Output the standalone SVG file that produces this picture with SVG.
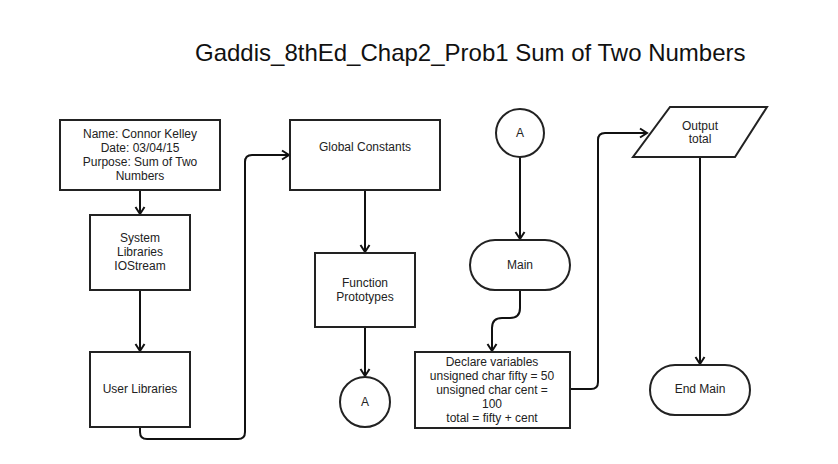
<svg xmlns="http://www.w3.org/2000/svg" width="838" height="464" viewBox="0 0 838 464">
<style>
.box{fill:#fff;stroke:#222;stroke-width:2}
.t{font-family:"Liberation Sans",Arial,sans-serif;font-size:12px;fill:#222;text-anchor:middle}
.title{font-family:"Liberation Sans",Arial,sans-serif;font-size:24px;fill:#111}
.c{fill:none;stroke:#111;stroke-width:2;marker-end:url(#arr)}
</style>
<defs>
<marker id="arr" markerWidth="12" markerHeight="12" viewBox="0 0 12 12" refX="10" refY="6" orient="auto" markerUnits="userSpaceOnUse">
<path d="M3,1.5 L10,6 L3,10.5" fill="none" stroke="#111" stroke-width="2"/>
</marker>
</defs>
<rect width="838" height="464" fill="#fff"/>
<text class="title" x="195" y="61">Gaddis_8thEd_Chap2_Prob1 Sum of Two Numbers</text>

<g id="connectors">
<path class="c" d="M140,190 L140,214"/>
<path class="c" d="M140,290 L140,351"/>
<path class="c" d="M140,427 L140,432 Q140,439 147,439 L238,439 Q245,439 245,432 L245,162 Q245,155 252,155 L289,155"/>
<path class="c" d="M365,190 L365,252"/>
<path class="c" d="M365,327 L365,376"/>
<path class="c" d="M520,157 L520,239"/>
<path class="c" d="M520,290 L520,308 Q520,318 510,318 L502,318 Q492,318 492,328 L492,351"/>
<path class="c" d="M570,389 L591,389 Q598,389 598,382 L598,140 Q598,133 605,133 L647,133"/>
<path class="c" d="M700,157 L700,364"/>
</g>

<g id="n-header">
<rect class="box" x="60" y="120" width="160" height="70"/>
<text class="t" x="140" y="138">Name: Connor Kelley</text>
<text class="t" x="140" y="152">Date: 03/04/15</text>
<text class="t" x="140" y="166">Purpose: Sum of Two</text>
<text class="t" x="140" y="180">Numbers</text>
</g>
<g id="n-syslib">
<rect class="box" x="90" y="215" width="100" height="75"/>
<text class="t" x="140" y="242">System</text>
<text class="t" x="140" y="256">Libraries</text>
<text class="t" x="140" y="270">IOStream</text>
</g>
<g id="n-userlib">
<rect class="box" x="90" y="352" width="100" height="75"/>
<text class="t" x="140" y="393">User Libraries</text>
</g>
<g id="n-global">
<rect class="box" x="290" y="120" width="150" height="70"/>
<text class="t" x="365" y="151">Global Constants</text>
</g>
<g id="n-proto">
<rect class="box" x="315" y="253" width="100" height="74"/>
<text class="t" x="365" y="287">Function</text>
<text class="t" x="365" y="301">Prototypes</text>
</g>
<g id="n-a1">
<circle class="box" cx="365" cy="402" r="25"/>
<text class="t" x="365" y="406">A</text>
</g>
<g id="n-a2">
<circle class="box" cx="520" cy="133" r="24"/>
<text class="t" x="520" y="137">A</text>
</g>
<g id="n-main">
<rect class="box" x="470" y="240" width="100" height="50" rx="25" ry="25"/>
<text class="t" x="520" y="269">Main</text>
</g>
<g id="n-declare">
<rect class="box" x="415" y="352" width="155" height="76"/>
<text class="t" x="492" y="366">Declare variables</text>
<text class="t" x="492" y="380">unsigned char fifty = 50</text>
<text class="t" x="492" y="394">unsigned char cent =</text>
<text class="t" x="492" y="408">100</text>
<text class="t" x="492" y="422">total = fifty + cent</text>
</g>
<g id="n-output">
<polygon class="box" points="670,107 767,107 735,157 633,157"/>
<text class="t" x="700" y="130">Output</text>
<text class="t" x="700" y="143">total</text>
</g>
<g id="n-end">
<rect class="box" x="650" y="365" width="100" height="50" rx="25" ry="25"/>
<text class="t" x="700" y="393">End Main</text>
</g>
</svg>
